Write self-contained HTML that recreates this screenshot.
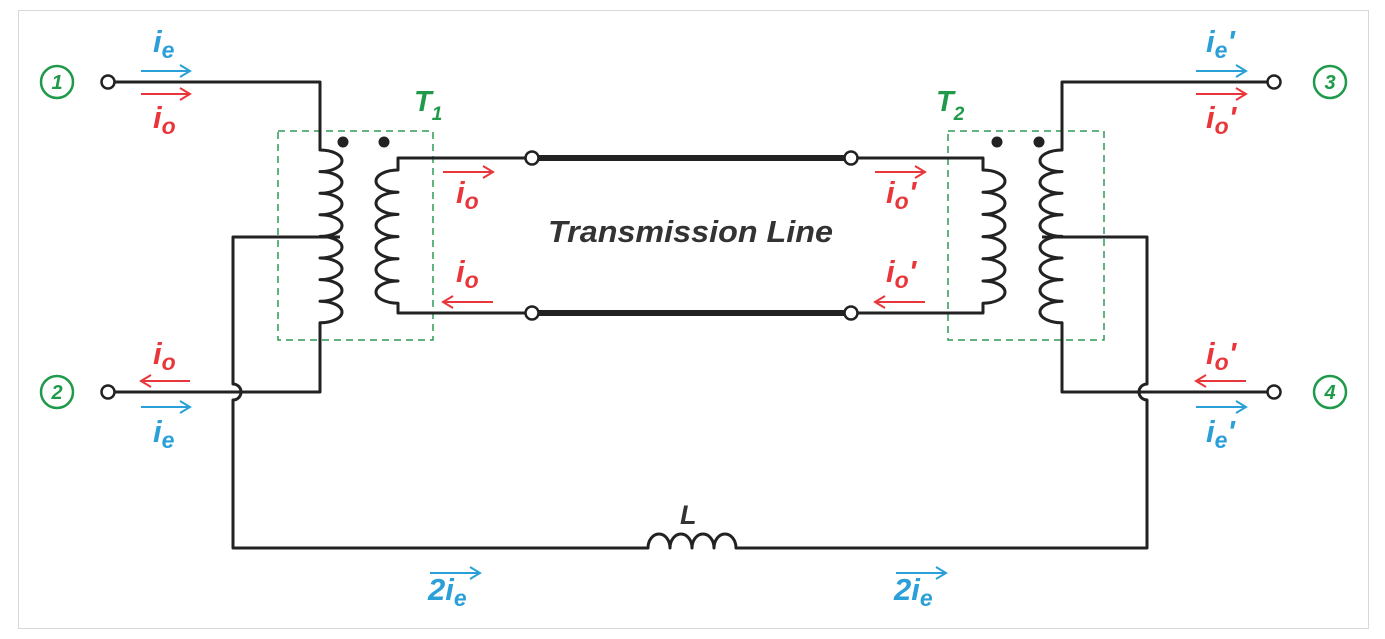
<!DOCTYPE html>
<html><head><meta charset="utf-8"><style>
html,body{margin:0;padding:0;background:#fff;}
svg{display:block;}
text{font-family:"Liberation Sans",sans-serif;font-weight:bold;font-style:italic;}
</style></head><body>
<svg width="1385" height="639" viewBox="0 0 1385 639" xmlns="http://www.w3.org/2000/svg">
<defs>
<marker id="ab" markerWidth="14" markerHeight="14" refX="12" refY="7" orient="auto" markerUnits="userSpaceOnUse"><path d="M2,1 L12,7 L2,13" fill="none" stroke="#2a9fd8" stroke-width="2"/></marker>
<marker id="ar" markerWidth="14" markerHeight="14" refX="12" refY="7" orient="auto" markerUnits="userSpaceOnUse"><path d="M2,1 L12,7 L2,13" fill="none" stroke="#e8363a" stroke-width="2"/></marker>
</defs>
<rect x="18.5" y="10.5" width="1350" height="618" fill="none" stroke="#d8d8d8" stroke-width="1"/>

<rect x="278" y="131" width="155" height="209" fill="none" stroke="#2e9a55" stroke-width="1.5" stroke-dasharray="7,5"/>
<rect x="948" y="131" width="156" height="209" fill="none" stroke="#2e9a55" stroke-width="1.5" stroke-dasharray="7,5"/>

<g fill="none" stroke="#222" stroke-width="3" stroke-linejoin="round">
<path d="M113,82 H320 V150 a22,10.8 0 0 1 0,21.6 a22,10.8 0 0 1 0,21.6 a22,10.8 0 0 1 0,21.6 a22,10.8 0 0 1 0,21.6 a22,10.8 0 0 1 0,21.6 a22,10.8 0 0 1 0,21.6 a22,10.8 0 0 1 0,21.6 a22,10.8 0 0 1 0,21.6 V392 H113"/>
<path d="M340,237 H233 V384 a8,8 0 0 1 0,16 V548 H648 a11,14 0 0 1 22,0 a11,14 0 0 1 22,0 a11,14 0 0 1 22,0 a11,14 0 0 1 22,0 H1147 V400 a8,8 0 0 1 0,-16 V237 H1042"/>
<path d="M532,158 H398 V170 a22,11.1 0 0 0 0,22.2 a22,11.1 0 0 0 0,22.2 a22,11.1 0 0 0 0,22.2 a22,11.1 0 0 0 0,22.2 a22,11.1 0 0 0 0,22.2 a22,11.1 0 0 0 0,22.2 V313 H532"/>
<path d="M851,158 H983 V170 a22,11.1 0 0 1 0,22.2 a22,11.1 0 0 1 0,22.2 a22,11.1 0 0 1 0,22.2 a22,11.1 0 0 1 0,22.2 a22,11.1 0 0 1 0,22.2 a22,11.1 0 0 1 0,22.2 V313 H851"/>
<path d="M1268,82 H1062 V150 a22,10.8 0 0 0 0,21.6 a22,10.8 0 0 0 0,21.6 a22,10.8 0 0 0 0,21.6 a22,10.8 0 0 0 0,21.6 a22,10.8 0 0 0 0,21.6 a22,10.8 0 0 0 0,21.6 a22,10.8 0 0 0 0,21.6 a22,10.8 0 0 0 0,21.6 V392 H1268"/>
</g>
<g stroke="#222" stroke-width="6"><line x1="532" y1="158" x2="851" y2="158"/><line x1="532" y1="313" x2="851" y2="313"/></g>
<g fill="#fff" stroke="#222" stroke-width="2.5">
<circle cx="532" cy="158" r="6.5"/><circle cx="851" cy="158" r="6.5"/><circle cx="532" cy="313" r="6.5"/><circle cx="851" cy="313" r="6.5"/>
<circle cx="108" cy="82" r="6.5"/><circle cx="108" cy="392" r="6.5"/><circle cx="1274" cy="82" r="6.5"/><circle cx="1274" cy="392" r="6.5"/>
</g>
<g fill="#222"><circle cx="343" cy="142" r="5.5"/><circle cx="384" cy="142" r="5.5"/><circle cx="997" cy="142" r="5.5"/><circle cx="1039" cy="142" r="5.5"/></g>

<g fill="none" stroke="#1f9a4a" stroke-width="2.5">
<circle cx="57" cy="82" r="16"/><circle cx="57" cy="392" r="16"/><circle cx="1330" cy="82" r="16"/><circle cx="1330" cy="392" r="16"/>
</g>
<g fill="#1f9a4a" font-size="20" text-anchor="middle">
<text x="57" y="89">1</text><text x="57" y="399">2</text><text x="1330" y="89">3</text><text x="1330" y="399">4</text>
</g>
<g fill="#1f9a4a" font-size="29"><text x="414" y="111">T<tspan font-size="19" dy="9">1</tspan></text><text x="936" y="111">T<tspan font-size="19" dy="9">2</tspan></text></g>

<text x="548" y="242" font-size="30.5" fill="#333" textLength="285" lengthAdjust="spacingAndGlyphs">Transmission Line</text>
<text x="680" y="524" font-size="27" fill="#333">L</text>

<g stroke-width="2" fill="none">
<line x1="141" y1="71" x2="190" y2="71" stroke="#2a9fd8" marker-end="url(#ab)"/>
<line x1="141" y1="94" x2="190" y2="94" stroke="#e8363a" marker-end="url(#ar)"/>
<line x1="190" y1="381" x2="141" y2="381" stroke="#e8363a" marker-end="url(#ar)"/>
<line x1="141" y1="407" x2="190" y2="407" stroke="#2a9fd8" marker-end="url(#ab)"/>
<line x1="443" y1="172" x2="493" y2="172" stroke="#e8363a" marker-end="url(#ar)"/>
<line x1="493" y1="302" x2="443" y2="302" stroke="#e8363a" marker-end="url(#ar)"/>
<line x1="875" y1="172" x2="925" y2="172" stroke="#e8363a" marker-end="url(#ar)"/>
<line x1="925" y1="302" x2="875" y2="302" stroke="#e8363a" marker-end="url(#ar)"/>
<line x1="1196" y1="71" x2="1246" y2="71" stroke="#2a9fd8" marker-end="url(#ab)"/>
<line x1="1196" y1="94" x2="1246" y2="94" stroke="#e8363a" marker-end="url(#ar)"/>
<line x1="1246" y1="381" x2="1196" y2="381" stroke="#e8363a" marker-end="url(#ar)"/>
<line x1="1196" y1="407" x2="1246" y2="407" stroke="#2a9fd8" marker-end="url(#ab)"/>
<line x1="430" y1="573" x2="480" y2="573" stroke="#2a9fd8" marker-end="url(#ab)"/>
<line x1="896" y1="573" x2="946" y2="573" stroke="#2a9fd8" marker-end="url(#ab)"/>
</g>

<g font-size="31">
<g fill="#2a9fd8">
<text x="153" y="52">i<tspan font-size="23" dy="6">e</tspan></text>
<text x="153" y="442">i<tspan font-size="23" dy="6">e</tspan></text>
<text x="1206" y="52">i<tspan font-size="23" dy="6">e</tspan><tspan dy="-6">'</tspan></text>
<text x="1206" y="442">i<tspan font-size="23" dy="6">e</tspan><tspan dy="-6">'</tspan></text>
<text x="428" y="600">2i<tspan font-size="23" dy="6">e</tspan></text>
<text x="894" y="600">2i<tspan font-size="23" dy="6">e</tspan></text>
</g>
<g fill="#e8363a">
<text x="153" y="128">i<tspan font-size="23" dy="6">o</tspan></text>
<text x="153" y="364">i<tspan font-size="23" dy="6">o</tspan></text>
<text x="456" y="203">i<tspan font-size="23" dy="6">o</tspan></text>
<text x="456" y="282">i<tspan font-size="23" dy="6">o</tspan></text>
<text x="886" y="203">i<tspan font-size="23" dy="6">o</tspan><tspan dy="-6">'</tspan></text>
<text x="886" y="282">i<tspan font-size="23" dy="6">o</tspan><tspan dy="-6">'</tspan></text>
<text x="1206" y="128">i<tspan font-size="23" dy="6">o</tspan><tspan dy="-6">'</tspan></text>
<text x="1206" y="364">i<tspan font-size="23" dy="6">o</tspan><tspan dy="-6">'</tspan></text>
</g>
</g>
</svg>
</body></html>
